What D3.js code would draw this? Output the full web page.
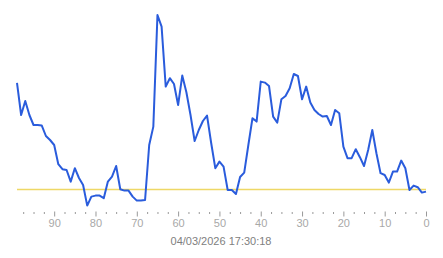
<!DOCTYPE html>
<html><head><meta charset="utf-8">
<script src="https://cdn.jsdelivr.net/npm/d3@7"></script>
<style>body{margin:0;background:#fff}svg{display:block}</style>
</head><body>
<svg id="c" width="443" height="258"></svg>
<script>
// x positions (seconds ago), from 99 down to 0
const ages = d3.range(99, -1, -1);
// series values for each age, in the same order
const values = [63.6,47.5,54.5,47.5,42.5,42.5,42.2,37,35,32.5,
22.9,20.4,20,14.2,20.9,16,12.5,2.2,6.7,7.2,
7.2,5.9,14.2,16.7,22,10.4,9.7,9.7,6.7,4.7,
4.7,5,32.5,41.7,97.5,91.7,61.7,65.9,63,52.5,
67.2,58.9,47.5,34.5,40,44.5,47.2,33.5,20.9,24.2,
21.7,10,10,8,16.5,18.7,32.5,45.9,44.2,64.2,
63.7,62,46.7,43.7,55.4,57,60.9,68,67,55.4,
61.7,53.7,50,48,46.7,47,42.5,50,48.4,31.7,
25.9,25.9,30.4,26.4,22,30,40,28.4,18.4,17.5,
13.7,19.2,19.2,24.7,20.9,10,12.2,11.4,8.7,9.2];
const threshold = [10.4];
const majorTicks = [90,80,70,60,50,40,30,20,10,0];
const minorTicks = d3.range(97.5, 0, -2.5).filter(v => v % 10 !== 0);
const timestamp = ["04/03/2026 17:30:18"];

const svg = d3.select("#c");
const x = d3.scaleLinear().domain([99, 0]).range([17, 426]);
const y = d3.scaleLinear().domain([0, 100]).range([210, 10]);

// threshold line
svg.selectAll("line.th").data(threshold).enter().append("line")
  .attr("x1", x(99)).attr("x2", x(0))
  .attr("y1", d => Math.round(y(d)) + 0.5).attr("y2", d => Math.round(y(d)) + 0.5)
  .attr("stroke", "#eed866").attr("stroke-width", 1.3);

const data = ages.map((a, i) => ({a, v: values[i]}));
svg.append("path").datum(data)
  .attr("fill", "none").attr("stroke", "#2a5cdc").attr("stroke-width", 2)
  .attr("stroke-linejoin", "round")
  .attr("d", d3.line().x(d => x(d.a)).y(d => y(d.v)));

// minor ticks
const gMinor = svg.append("g").attr("transform", "translate(0,212)")
  .call(d3.axisBottom(x).tickValues(minorTicks).tickSize(2).tickFormat(""));
gMinor.select(".domain").remove();
gMinor.selectAll("line").attr("stroke", "#999");

// major ticks
const gMajor = svg.append("g").attr("transform", "translate(0,211.5)")
  .call(d3.axisBottom(x).tickValues(majorTicks).tickSize(5).tickPadding(3).tickFormat(d3.format("d")));
gMajor.select(".domain").remove();
gMajor.selectAll("line").attr("stroke", "#999");
gMajor.selectAll("text").attr("fill", "#a8a8a8")
  .style("font-family", "Liberation Sans, Arial, sans-serif").style("font-size", "11px");

svg.selectAll("text.ts").data(timestamp).enter().append("text")
  .attr("x", 221).attr("y", 245).attr("text-anchor", "middle")
  .attr("fill", "#808080")
  .style("font-family", "Liberation Sans, Arial, sans-serif").style("font-size", "11px")
  .text(d => d);
</script>
</body></html>
